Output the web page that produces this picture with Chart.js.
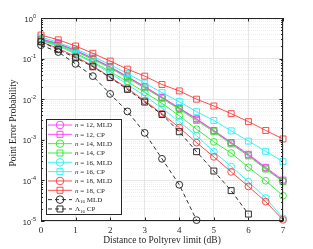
<!DOCTYPE html>
<html>
<head>
<meta charset="utf-8">
<style>
  html, body { margin: 0; padding: 0; background: #fff; }
  #wrap { width: 313px; height: 249px; }
</style>
<script src="https://cdn.jsdelivr.net/npm/chart.js@4.4.0/dist/chart.umd.min.js"></script>
</head>
<body>
<div id="wrap"><canvas id="c"></canvas></div>
<script>
// distance to Poltyrev limit (dB)
const distDb = [0, 0.5, 1, 1.5, 2, 2.5, 3, 3.5, 4, 4.5, 5, 5.5, 6, 6.5, 7];
const xTicks = [0, 1, 2, 3, 4, 5, 6, 7];
const yDecades = [-5, -4, -3, -2, -1, 0];

// point error probability
const n12Mld = [3.0e-1, 2.3e-1, 1.58e-1, 1.0e-1, 6.2e-2, 3.5e-2, 2.0e-2, 1.1e-2, 5.9e-3, 3.2e-3, 1.66e-3, 8.3e-4, 4.2e-4, 2.0e-4, 9.6e-5];
const n12Cp  = [3.05e-1, 2.35e-1, 1.6e-1, 1.02e-1, 6.3e-2, 3.6e-2, 2.05e-2, 1.12e-2, 6.1e-3, 3.3e-3, 1.7e-3, 8.6e-4, 4.4e-4, 2.1e-4, 1.02e-4];
const n14Mld = [2.8e-1, 2.1e-1, 1.38e-1, 8.3e-2, 4.8e-2, 2.7e-2, 1.48e-2, 7.9e-3, 3.9e-3, 1.82e-3, 8.9e-4, 4.7e-4, 2.1e-4, 9.8e-5, 4.2e-5];
const n14Cp  = [2.9e-1, 2.2e-1, 1.5e-1, 9.5e-2, 5.9e-2, 3.3e-2, 1.9e-2, 1.05e-2, 5.6e-3, 3.0e-3, 1.58e-3, 7.9e-4, 4.0e-4, 1.9e-4, 9.3e-5];
const n16Mld = [2.75e-1, 2.0e-1, 1.32e-1, 7.8e-2, 4.4e-2, 2.3e-2, 1.2e-2, 6.0e-3, 2.8e-3, 1.26e-3, 5.1e-4, 2.2e-4, 9.3e-5, 3.7e-5, 1.17e-5];
const n16Cp  = [3.4e-1, 2.5e-1, 1.74e-1, 1.12e-1, 7.1e-2, 4.3e-2, 2.5e-2, 1.45e-2, 8.7e-3, 4.9e-3, 3.0e-3, 1.66e-3, 9.3e-4, 5.2e-4, 2.9e-4];
const n18Mld = [2.6e-1, 1.78e-1, 1.12e-1, 6.6e-2, 3.5e-2, 1.86e-2, 9.1e-3, 4.4e-3, 2.0e-3, 8.5e-4, 3.8e-4, 1.62e-4, 7.1e-5, 3.0e-5, 1.07e-5];
const n18Cp  = [3.8e-1, 2.9e-1, 2.04e-1, 1.35e-1, 8.7e-2, 5.5e-2, 3.7e-2, 2.3e-2, 1.6e-2, 1.0e-2, 6.8e-3, 4.4e-3, 2.8e-3, 1.7e-3, 1.05e-3];
const l16Mld = [2.14e-1, 1.45e-1, 7.4e-2, 3.7e-2, 1.35e-2, 5.0e-3, 1.48e-3, 3.4e-4, 7.8e-5, 1.05e-5];
const l16Cp  = [2.6e-1, 1.66e-1, 1.05e-1, 6.3e-2, 3.4e-2, 1.74e-2, 8.5e-3, 4.2e-3, 1.58e-3, 5.1e-4, 1.7e-4, 5.6e-5, 1.48e-5];

const labels = ['n = 12, MLD', 'n = 12, CP', 'n = 14, MLD', 'n = 14, CP', 'n = 16, MLD',
                'n = 16, CP', 'n = 18, MLD', 'n = 18, CP', 'Λ16 MLD', 'Λ16 CP'];
const values = [n12Mld, n12Cp, n14Mld, n14Cp, n16Mld, n16Cp, n18Mld, n18Cp, l16Mld, l16Cp];
const colors = ['#ff33ff', '#ff33ff', '#2ee82e', '#2ee82e', '#22f0f8', '#22f0f8', '#ff3838', '#ff3838', '#1a1a1a', '#1a1a1a'];

const isDecade = v => Math.abs(Math.log10(v) - Math.round(Math.log10(v))) < 1e-9;
const AX = '#262626';

const datasets = values.map((vals, i) => ({
  label: labels[i],
  data: vals.map((v, k) => ({ x: distDb[k], y: v })),
  borderColor: colors[i],
  backgroundColor: 'transparent',
  pointBorderColor: colors[i],
  pointBackgroundColor: 'transparent',
  pointStyle: i % 2 === 0 ? 'circle' : 'rect',
  pointRadius: i % 2 === 0 ? 3.4 : 4.2,
  pointBorderWidth: 0.9,
  borderWidth: 0.9,
  borderDash: i >= 8 ? [4, 3] : [],
  tension: 0,
  clip: false,
  order: -i
}));

function drawRichLabel(ctx, text, x, y) {
  const base = 7;
  if (text.startsWith('Λ')) {
    ctx.font = base + 'px "Liberation Serif"';
    ctx.fillText('Λ', x, y);
    x += ctx.measureText('Λ').width;
    ctx.font = '5px "Liberation Serif"';
    ctx.fillText('16', x, y + 2);
    x += ctx.measureText('16').width;
    ctx.font = base + 'px "Liberation Serif"';
    ctx.fillText(text.slice(3), x, y);
  } else {
    ctx.font = 'italic ' + base + 'px "Liberation Serif"';
    ctx.fillText('n', x, y);
    x += ctx.measureText('n').width;
    ctx.font = base + 'px "Liberation Serif"';
    ctx.fillText(text.slice(1), x, y);
  }
}

const decor = {
  id: 'decor',
  afterDraw(chart) {
    const { ctx, chartArea: a, scales: { x, y } } = chart;
    ctx.save();
    // axes box
    ctx.strokeStyle = AX;
    ctx.lineWidth = 1;
    ctx.strokeRect(a.left + 0.5, a.top + 0.5, a.right - a.left - 1, a.bottom - a.top - 1);

    // inward ticks
    ctx.beginPath();
    y.ticks.forEach(t => {
      const p = Math.round(y.getPixelForValue(t.value)) + 0.5;
      const len = isDecade(t.value) ? 3.5 : 2;
      ctx.moveTo(a.left, p); ctx.lineTo(a.left + len, p);
      ctx.moveTo(a.right, p); ctx.lineTo(a.right - len, p);
    });
    xTicks.forEach(v => {
      const p = Math.round(x.getPixelForValue(v)) + 0.5;
      ctx.moveTo(p, a.bottom); ctx.lineTo(p, a.bottom - 3.5);
      ctx.moveTo(p, a.top); ctx.lineTo(p, a.top + 3.5);
    });
    ctx.stroke();

    // y tick labels 10^k
    ctx.fillStyle = AX;
    ctx.textAlign = 'right';
    ctx.textBaseline = 'middle';
    yDecades.forEach(e => {
      const p = y.getPixelForValue(Math.pow(10, e));
      const sup = String(e);
      ctx.font = '5.5px "Liberation Sans"';
      const ws = ctx.measureText(sup).width;
      ctx.fillText(sup, 36, p - 2);
      ctx.font = '7.5px "Liberation Sans"';
      ctx.fillText('10', 36 - ws, p + 1.5);
    });

    // y title
    ctx.save();
    ctx.translate(13, 123);
    ctx.rotate(-Math.PI / 2);
    ctx.textAlign = 'center';
    ctx.font = '9.5px "Liberation Serif"';
    ctx.fillStyle = AX;
    ctx.fillText('Point Error Probability', 0, 0);
    ctx.restore();

    // legend
    const bx = 46, by = 119, bw = 76, bh = 96;
    ctx.fillStyle = '#fff';
    ctx.fillRect(bx, by, bw, bh);
    ctx.strokeStyle = AX;
    ctx.lineWidth = 1;
    ctx.strokeRect(bx + 0.5, by + 0.5, bw - 1, bh - 1);
    ctx.textAlign = 'left';
    ctx.textBaseline = 'middle';
    chart.data.datasets.forEach((ds, i) => {
      const ly = 125 + i * 9.33;
      ctx.strokeStyle = ds.borderColor;
      ctx.lineWidth = 0.9;
      ctx.setLineDash(ds.borderDash);
      ctx.beginPath();
      ctx.moveTo(48, ly); ctx.lineTo(72, ly);
      ctx.stroke();
      ctx.setLineDash([]);
      ctx.beginPath();
      if (ds.pointStyle === 'circle') {
        ctx.arc(60, ly, 3.8, 0, Math.PI * 2);
      } else {
        ctx.rect(57, ly - 3, 6, 6);
      }
      ctx.stroke();
      ctx.fillStyle = AX;
      drawRichLabel(ctx, ds.label, 75, ly + 0.5);
    });
    ctx.restore();
  }
};

new Chart(document.getElementById('c'), {
  type: 'line',
  data: { datasets },
  options: {
    responsive: true,
    maintainAspectRatio: false,
    animation: false,
    layout: { padding: { left: 0, right: 30, top: 18, bottom: 0 } },
    plugins: { legend: { display: false }, tooltip: { enabled: false } },
    scales: {
      x: {
        type: 'linear',
        min: 0,
        max: 7,
        afterFit: s => { s.height = 28; },
        afterBuildTicks: s => { s.ticks = xTicks.map(v => ({ value: v })); },
        grid: { color: '#e6e6e6', lineWidth: 1, drawTicks: false },
        border: { display: false },
        ticks: {
          color: AX,
          padding: 4,
          maxRotation: 0,
          font: { family: 'Liberation Serif', size: 9 }
        },
        title: {
          display: true,
          text: 'Distance to Poltyrev limit (dB)',
          color: AX,
          padding: { top: 0, bottom: 3 },
          font: { family: 'Liberation Serif', size: 9.5 }
        }
      },
      y: {
        type: 'logarithmic',
        min: 1e-5,
        max: 1,
        afterFit: s => { s.width = 41; },
        afterBuildTicks: s => {
          const t = [];
          yDecades.forEach(e => {
            const b = Math.pow(10, e);
            t.push({ value: b, major: true });
            if (e < 0) for (let m = 2; m <= 9; m++) t.push({ value: m * b, major: false });
          });
          s.ticks = t;
        },
        grid: {
          drawTicks: false,
          lineWidth: 1,
          color: c => (c.tick && !isDecade(c.tick.value)) ? '#eeeeee' : '#e6e6e6'
        },
        border: {
          display: false,
          dash: c => (c.tick && !isDecade(c.tick.value)) ? [1, 1] : []
        },
        ticks: { display: false }
      }
    }
  },
  plugins: [decor]
});
</script>
</body>
</html>
